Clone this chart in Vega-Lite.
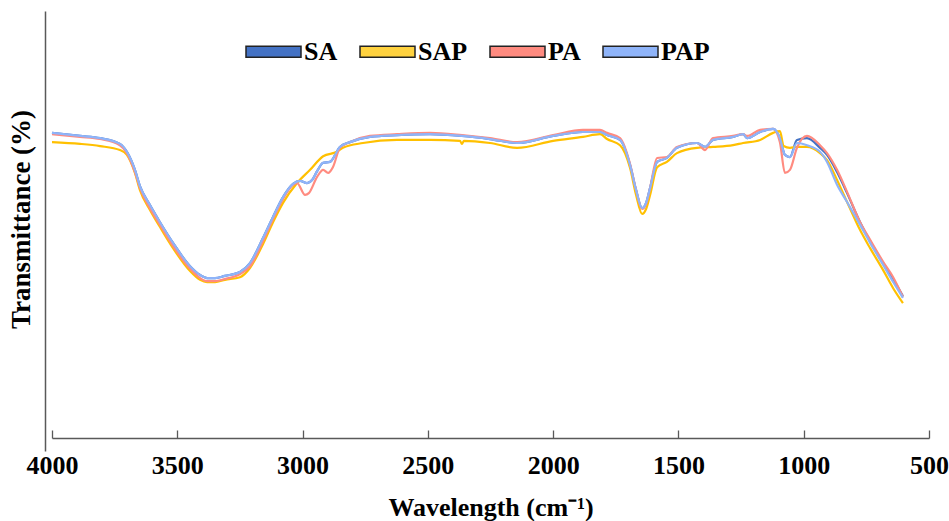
{
  "$schema": "https://vega.github.io/schema/vega-lite/v6.json",
  "width": 877,
  "height": 440,
  "autosize": {"type": "none"},
  "padding": {"left": 52, "top": 11, "right": 20, "bottom": 70},
  "background": "white",
  "config": {
    "view": {"stroke": null},
    "font": "Liberation Serif"
  },
  "data": {
    "values": [
      {"s":"SA","w":4000,"t":72.3},{"s":"SA","w":3888,"t":71.6},{"s":"SA","w":3808,"t":71.1},{"s":"SA","w":3729,"t":69.8},{"s":"SA","w":3701,"t":68.0},{"s":"SA","w":3669,"t":63.9},{"s":"SA","w":3649,"t":60.2},{"s":"SA","w":3609,"t":55.9},{"s":"SA","w":3569,"t":52.0},{"s":"SA","w":3517,"t":47.3},{"s":"SA","w":3449,"t":42.0},{"s":"SA","w":3409,"t":40.0},{"s":"SA","w":3381,"t":39.3},{"s":"SA","w":3349,"t":39.3},{"s":"SA","w":3310,"t":39.8},{"s":"SA","w":3250,"t":40.7},{"s":"SA","w":3210,"t":42.7},{"s":"SA","w":3158,"t":48.4},{"s":"SA","w":3118,"t":53.2},{"s":"SA","w":3078,"t":57.7},{"s":"SA","w":3038,"t":60.7},{"s":"SA","w":3010,"t":61.4},{"s":"SA","w":2982,"t":60.9},{"s":"SA","w":2962,"t":61.6},{"s":"SA","w":2942,"t":63.6},{"s":"SA","w":2918,"t":65.5},{"s":"SA","w":2891,"t":65.7},{"s":"SA","w":2851,"t":69.1},{"s":"SA","w":2811,"t":70.2},{"s":"SA","w":2731,"t":71.4},{"s":"SA","w":2623,"t":71.8},{"s":"SA","w":2491,"t":72.0},{"s":"SA","w":2364,"t":71.6},{"s":"SA","w":2252,"t":70.9},{"s":"SA","w":2144,"t":70.0},{"s":"SA","w":2000,"t":71.6},{"s":"SA","w":1881,"t":72.5},{"s":"SA","w":1813,"t":72.5},{"s":"SA","w":1785,"t":71.8},{"s":"SA","w":1733,"t":70.7},{"s":"SA","w":1693,"t":65.0},{"s":"SA","w":1669,"t":59.3},{"s":"SA","w":1645,"t":55.2},{"s":"SA","w":1629,"t":56.4},{"s":"SA","w":1613,"t":59.8},{"s":"SA","w":1585,"t":65.7},{"s":"SA","w":1546,"t":66.6},{"s":"SA","w":1506,"t":68.9},{"s":"SA","w":1426,"t":70.0},{"s":"SA","w":1394,"t":69.1},{"s":"SA","w":1362,"t":70.7},{"s":"SA","w":1282,"t":71.4},{"s":"SA","w":1242,"t":72.0},{"s":"SA","w":1226,"t":71.1},{"s":"SA","w":1174,"t":72.5},{"s":"SA","w":1122,"t":73.2},{"s":"SA","w":1095,"t":71.1},{"s":"SA","w":1075,"t":67.3},{"s":"SA","w":1055,"t":66.8},{"s":"SA","w":1027,"t":70.7},{"s":"SA","w":987,"t":71.1},{"s":"SA","w":935,"t":68.9},{"s":"SA","w":907,"t":67.3},{"s":"SA","w":867,"t":63.4},{"s":"SA","w":827,"t":58.6},{"s":"SA","w":775,"t":52.0},{"s":"SA","w":735,"t":47.7},{"s":"SA","w":683,"t":42.7},{"s":"SA","w":643,"t":39.1},{"s":"SA","w":604,"t":35.2},

      {"s":"SAP","w":4000,"t":70.2},{"s":"SAP","w":3888,"t":69.8},{"s":"SAP","w":3808,"t":69.3},{"s":"SAP","w":3729,"t":68.4},{"s":"SAP","w":3701,"t":67.3},{"s":"SAP","w":3669,"t":63.2},{"s":"SAP","w":3649,"t":59.3},{"s":"SAP","w":3609,"t":54.8},{"s":"SAP","w":3569,"t":50.9},{"s":"SAP","w":3517,"t":46.1},{"s":"SAP","w":3449,"t":40.9},{"s":"SAP","w":3409,"t":38.9},{"s":"SAP","w":3381,"t":38.4},{"s":"SAP","w":3349,"t":38.4},{"s":"SAP","w":3310,"t":38.9},{"s":"SAP","w":3250,"t":39.5},{"s":"SAP","w":3210,"t":41.6},{"s":"SAP","w":3158,"t":47.0},{"s":"SAP","w":3118,"t":52.0},{"s":"SAP","w":3078,"t":56.4},{"s":"SAP","w":3022,"t":60.9},{"s":"SAP","w":2970,"t":63.9},{"s":"SAP","w":2918,"t":67.0},{"s":"SAP","w":2863,"t":68.0},{"s":"SAP","w":2839,"t":68.9},{"s":"SAP","w":2759,"t":70.0},{"s":"SAP","w":2623,"t":70.7},{"s":"SAP","w":2491,"t":70.7},{"s":"SAP","w":2372,"t":70.5},{"s":"SAP","w":2364,"t":69.8},{"s":"SAP","w":2356,"t":70.5},{"s":"SAP","w":2252,"t":70.0},{"s":"SAP","w":2144,"t":68.9},{"s":"SAP","w":2000,"t":70.5},{"s":"SAP","w":1881,"t":71.4},{"s":"SAP","w":1813,"t":72.0},{"s":"SAP","w":1785,"t":70.9},{"s":"SAP","w":1733,"t":69.5},{"s":"SAP","w":1693,"t":64.3},{"s":"SAP","w":1669,"t":58.2},{"s":"SAP","w":1645,"t":53.9},{"s":"SAP","w":1629,"t":55.0},{"s":"SAP","w":1613,"t":58.2},{"s":"SAP","w":1585,"t":64.5},{"s":"SAP","w":1546,"t":65.7},{"s":"SAP","w":1506,"t":67.7},{"s":"SAP","w":1426,"t":68.9},{"s":"SAP","w":1362,"t":69.1},{"s":"SAP","w":1282,"t":69.5},{"s":"SAP","w":1242,"t":70.0},{"s":"SAP","w":1174,"t":70.7},{"s":"SAP","w":1122,"t":72.3},{"s":"SAP","w":1095,"t":72.7},{"s":"SAP","w":1080,"t":69.3},{"s":"SAP","w":1055,"t":68.9},{"s":"SAP","w":1027,"t":69.1},{"s":"SAP","w":987,"t":69.1},{"s":"SAP","w":935,"t":67.7},{"s":"SAP","w":907,"t":66.1},{"s":"SAP","w":867,"t":61.6},{"s":"SAP","w":827,"t":56.6},{"s":"SAP","w":775,"t":50.2},{"s":"SAP","w":735,"t":46.1},{"s":"SAP","w":683,"t":41.1},{"s":"SAP","w":643,"t":37.0},{"s":"SAP","w":604,"t":33.6},

      {"s":"PA","w":4000,"t":72.0},{"s":"PA","w":3888,"t":71.4},{"s":"PA","w":3808,"t":70.9},{"s":"PA","w":3729,"t":69.5},{"s":"PA","w":3701,"t":67.7},{"s":"PA","w":3669,"t":63.4},{"s":"PA","w":3649,"t":59.8},{"s":"PA","w":3609,"t":55.2},{"s":"PA","w":3569,"t":51.4},{"s":"PA","w":3517,"t":46.6},{"s":"PA","w":3449,"t":41.4},{"s":"PA","w":3409,"t":39.3},{"s":"PA","w":3381,"t":38.6},{"s":"PA","w":3349,"t":38.6},{"s":"PA","w":3310,"t":39.1},{"s":"PA","w":3250,"t":40.2},{"s":"PA","w":3210,"t":42.0},{"s":"PA","w":3158,"t":47.7},{"s":"PA","w":3118,"t":52.7},{"s":"PA","w":3078,"t":57.3},{"s":"PA","w":3038,"t":60.5},{"s":"PA","w":3022,"t":60.9},{"s":"PA","w":2990,"t":58.2},{"s":"PA","w":2975,"t":58.6},{"s":"PA","w":2942,"t":62.3},{"s":"PA","w":2918,"t":63.9},{"s":"PA","w":2898,"t":63.2},{"s":"PA","w":2879,"t":64.5},{"s":"PA","w":2851,"t":68.9},{"s":"PA","w":2811,"t":70.2},{"s":"PA","w":2731,"t":71.6},{"s":"PA","w":2623,"t":72.0},{"s":"PA","w":2491,"t":72.3},{"s":"PA","w":2364,"t":71.8},{"s":"PA","w":2252,"t":71.1},{"s":"PA","w":2144,"t":70.2},{"s":"PA","w":2000,"t":71.8},{"s":"PA","w":1881,"t":73.0},{"s":"PA","w":1813,"t":73.0},{"s":"PA","w":1785,"t":72.3},{"s":"PA","w":1733,"t":71.1},{"s":"PA","w":1693,"t":65.2},{"s":"PA","w":1669,"t":59.3},{"s":"PA","w":1645,"t":55.0},{"s":"PA","w":1629,"t":56.1},{"s":"PA","w":1613,"t":59.8},{"s":"PA","w":1585,"t":66.6},{"s":"PA","w":1546,"t":66.8},{"s":"PA","w":1506,"t":69.1},{"s":"PA","w":1426,"t":70.0},{"s":"PA","w":1394,"t":68.4},{"s":"PA","w":1362,"t":71.1},{"s":"PA","w":1282,"t":71.6},{"s":"PA","w":1242,"t":72.0},{"s":"PA","w":1226,"t":71.6},{"s":"PA","w":1174,"t":73.0},{"s":"PA","w":1122,"t":73.2},{"s":"PA","w":1095,"t":70.2},{"s":"PA","w":1075,"t":63.2},{"s":"PA","w":1055,"t":63.9},{"s":"PA","w":1027,"t":68.9},{"s":"PA","w":987,"t":71.6},{"s":"PA","w":935,"t":69.5},{"s":"PA","w":907,"t":67.7},{"s":"PA","w":867,"t":63.9},{"s":"PA","w":827,"t":58.9},{"s":"PA","w":775,"t":52.0},{"s":"PA","w":735,"t":48.0},{"s":"PA","w":683,"t":43.0},{"s":"PA","w":643,"t":39.5},{"s":"PA","w":604,"t":35.0},

      {"s":"PAP","w":4000,"t":72.3},{"s":"PAP","w":3888,"t":71.6},{"s":"PAP","w":3808,"t":71.1},{"s":"PAP","w":3729,"t":69.8},{"s":"PAP","w":3701,"t":68.0},{"s":"PAP","w":3669,"t":63.9},{"s":"PAP","w":3649,"t":60.2},{"s":"PAP","w":3609,"t":55.9},{"s":"PAP","w":3569,"t":52.0},{"s":"PAP","w":3517,"t":47.3},{"s":"PAP","w":3449,"t":42.0},{"s":"PAP","w":3409,"t":40.0},{"s":"PAP","w":3381,"t":39.3},{"s":"PAP","w":3349,"t":39.3},{"s":"PAP","w":3310,"t":39.8},{"s":"PAP","w":3250,"t":40.7},{"s":"PAP","w":3210,"t":42.7},{"s":"PAP","w":3158,"t":48.4},{"s":"PAP","w":3118,"t":53.2},{"s":"PAP","w":3078,"t":57.7},{"s":"PAP","w":3038,"t":60.7},{"s":"PAP","w":3010,"t":61.4},{"s":"PAP","w":2982,"t":60.9},{"s":"PAP","w":2962,"t":61.6},{"s":"PAP","w":2942,"t":63.6},{"s":"PAP","w":2918,"t":65.5},{"s":"PAP","w":2891,"t":65.7},{"s":"PAP","w":2851,"t":69.1},{"s":"PAP","w":2811,"t":70.2},{"s":"PAP","w":2731,"t":71.4},{"s":"PAP","w":2623,"t":71.8},{"s":"PAP","w":2491,"t":72.0},{"s":"PAP","w":2364,"t":71.6},{"s":"PAP","w":2252,"t":70.9},{"s":"PAP","w":2144,"t":70.0},{"s":"PAP","w":2000,"t":71.6},{"s":"PAP","w":1881,"t":72.5},{"s":"PAP","w":1813,"t":72.5},{"s":"PAP","w":1785,"t":71.8},{"s":"PAP","w":1733,"t":70.7},{"s":"PAP","w":1693,"t":65.0},{"s":"PAP","w":1669,"t":59.3},{"s":"PAP","w":1645,"t":55.2},{"s":"PAP","w":1629,"t":56.4},{"s":"PAP","w":1613,"t":59.8},{"s":"PAP","w":1585,"t":65.7},{"s":"PAP","w":1546,"t":66.6},{"s":"PAP","w":1506,"t":68.9},{"s":"PAP","w":1426,"t":70.0},{"s":"PAP","w":1394,"t":69.1},{"s":"PAP","w":1362,"t":70.7},{"s":"PAP","w":1282,"t":71.4},{"s":"PAP","w":1242,"t":72.0},{"s":"PAP","w":1226,"t":71.1},{"s":"PAP","w":1174,"t":72.5},{"s":"PAP","w":1122,"t":73.2},{"s":"PAP","w":1095,"t":71.1},{"s":"PAP","w":1075,"t":67.3},{"s":"PAP","w":1055,"t":66.8},{"s":"PAP","w":1027,"t":70.0},{"s":"PAP","w":987,"t":69.5},{"s":"PAP","w":935,"t":68.0},{"s":"PAP","w":907,"t":65.7},{"s":"PAP","w":867,"t":60.5},{"s":"PAP","w":827,"t":56.6},{"s":"PAP","w":775,"t":51.4},{"s":"PAP","w":735,"t":47.3},{"s":"PAP","w":683,"t":42.3},{"s":"PAP","w":643,"t":38.4},{"s":"PAP","w":604,"t":34.8}
    ]
  },
  "encoding": {
    "x": {
      "field": "w", "type": "quantitative",
      "scale": {"domain": [4000, 500], "nice": false, "zero": false},
      "axis": {
        "title": "Wavelength (cm⁻¹)",
        "titleFont": "Liberation Serif", "titleFontSize": 26, "titleFontWeight": "bold", "titleColor": "#000000",
        "titlePadding": 16,
        "values": [4000, 3500, 3000, 2500, 2000, 1500, 1000, 500],
        "format": "d",
        "labelFont": "Liberation Serif", "labelFontSize": 26, "labelFontWeight": "bold", "labelColor": "#000000",
        "labelPadding": 22,
        "labelFlush": false, "labelOverlap": false,
        "tickSize": -8, "tickColor": "#595959", "tickWidth": 1.3,
        "domainColor": "#595959", "domainWidth": 1.3,
        "grid": false,
        "offset": -13
      }
    },
    "y": {
      "field": "t", "type": "quantitative",
      "scale": {"domain": [0, 100], "nice": false},
      "axis": {
        "title": "Transmittance (%)",
        "titleFont": "Liberation Serif", "titleFontSize": 27, "titleFontWeight": "bold", "titleColor": "#000000",
        "titlePadding": 10,
        "titleY": 208,
        "labels": false, "ticks": false, "grid": false,
        "domainColor": "#595959", "domainWidth": 1.5,
        "offset": 7
      }
    }
  },
  "layer": [
    {
      "transform": [{"filter": "datum.s == 'SA'"}],
      "mark": {"type": "line", "strokeWidth": 2.2, "interpolate": "monotone", "color": "#4472C4"}
    },
    {
      "transform": [{"filter": "datum.s == 'SAP'"}],
      "mark": {"type": "line", "strokeWidth": 2.2, "interpolate": "monotone", "color": "#FFC000"}
    },
    {
      "transform": [{"filter": "datum.s == 'PA'"}],
      "mark": {"type": "line", "strokeWidth": 2.2, "interpolate": "monotone", "color": "#FF8B80"}
    },
    {
      "transform": [{"filter": "datum.s == 'PAP'"}],
      "mark": {"type": "line", "strokeWidth": 2.2, "interpolate": "monotone", "color": "#8FB4F9"}
    },
    {
      "mark": {"type": "point", "filled": true, "size": 0, "stroke": "#222222", "strokeWidth": 1.5, "shape": "M-1,-0.2L1,-0.2L1,0.2L-1,0.2Z"},
      "encoding": {
        "fill": {
          "field": "s", "type": "nominal",
          "scale": {"domain": ["SA", "SAP", "PA", "PAP"], "range": ["#4472C4", "#FFD23F", "#FF8B80", "#8FB4F9"]},
          "legend": {
            "title": null,
            "orient": "none",
            "direction": "horizontal",
            "legendX": 193,
            "legendY": 12,
            "symbolType": "M-1,-0.2L1,-0.2L1,0.2L-1,0.2Z",
            "symbolSize": 3025,
            "symbolStrokeColor": "#222222",
            "symbolStrokeWidth": 1.5,
            "symbolOpacity": 1,
            "labelFont": "Liberation Serif", "labelFontSize": 26, "labelFontWeight": "bold", "labelColor": "#000000",
            "labelOffset": 2,
            "columnPadding": 19
          }
        }
      }
    }
  ]
}
